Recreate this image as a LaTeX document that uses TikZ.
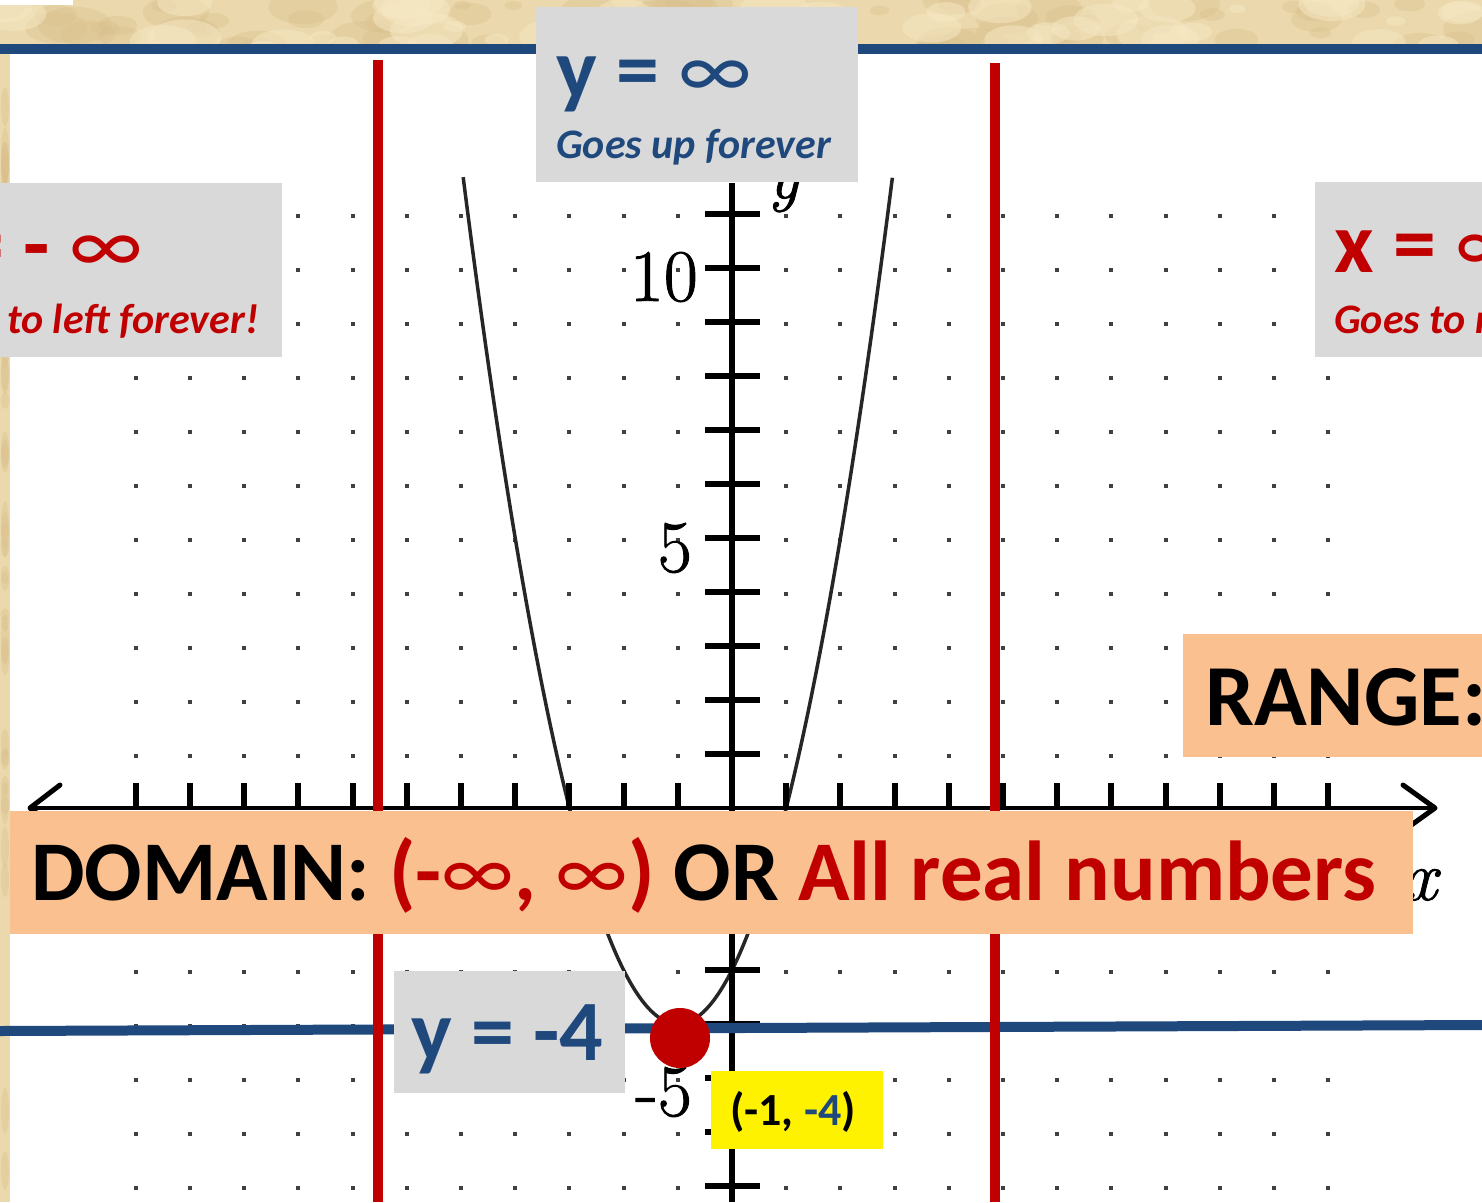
\documentclass[tikz,border=0pt]{standalone}
\usepackage{fontspec}
\setmainfont{Carlito}
\newfontfamily\lmr[FakeBold=1.2]{Latin Modern Roman}
\definecolor{navy}{HTML}{1F497D}
\definecolor{dred}{HTML}{C00000}
\definecolor{boxgray}{HTML}{D9D9D9}
\definecolor{peach}{HTML}{FAC090}
\definecolor{parch}{HTML}{EBD8AC}
\definecolor{parchdark}{HTML}{D9C08C}
\definecolor{parchlight}{HTML}{F6E8C4}
\definecolor{dotc}{HTML}{404040}
\newcommand\inft{{\mdseries ∞}}
\begin{document}
\begin{tikzpicture}[x=1pt,y=-1pt,
  bigtxt/.style={font=\fontsize{86}{86}\selectfont\bfseries, inner sep=0pt},
  smalltxt/.style={font=\fontsize{42}{42}\selectfont\bfseries\itshape, inner sep=0pt},
  domtxt/.style={font=\fontsize{85}{85}\selectfont\bfseries, inner sep=0pt, text=black},
  pttxt/.style={font=\fontsize{46}{46}\selectfont\bfseries, inner sep=0pt, text=black},
  numtxt/.style={font=\fontsize{74}{74}\selectfont\lmr, inner sep=0pt, text=black},
  axisline/.style={line width=4pt, black},
  tickline/.style={line width=6pt, black},
  redline/.style={line width=10pt, dred},
  blueline/.style={line width=10pt, navy}]
\useasboundingbox (0,0) rectangle (1482,1202);
\path[clip] (0,0) rectangle (1482,1202);
% background parchment
\fill[parch] (0,0) rectangle (1482,1202);
\pgfmathsetseed{7}
\foreach \k in {1,...,70}{
  \pgfmathsetmacro{\px}{rnd*1482}
  \pgfmathsetmacro{\py}{rnd*50}
  \pgfmathsetmacro{\pr}{8+rnd*30}
  \fill[parchdark, opacity=0.35] (\px,\py) ellipse[x radius=\pr, y radius=\pr/2];
}
\foreach \k in {1,...,50}{
  \pgfmathsetmacro{\px}{rnd*1482}
  \pgfmathsetmacro{\py}{rnd*50}
  \pgfmathsetmacro{\pr}{8+rnd*30}
  \fill[parchlight, opacity=0.5] (\px,\py) ellipse[x radius=\pr, y radius=\pr/2];
}
\foreach \k in {1,...,40}{
  \pgfmathsetmacro{\py}{54+rnd*1148}
  \pgfmathsetmacro{\pr}{6+rnd*20}
  \fill[parchdark, opacity=0.35] (5,\py) ellipse[x radius=4, y radius=\pr];
}
\fill[white] (0,0) rectangle (73,5);
\fill[white] (10,54) rectangle (1482,1202);
% dot grid
\foreach \i in {-11,...,-1,1,2,...,11}{
  \foreach \j in {-7,...,-1,1,2,...,11}{
    \fill[dotc] ({732+54.2*\i-2},{808-54*\j}) rectangle +(4,4);
  }
}
% parabola
\draw[line width=3.5pt, black!85] plot[domain=-4.96:2.96, samples=90, smooth] ({732+54.2*\x},{808-54*((\x+1)^2-4)});
% axes
\draw[axisline] (30,808) -- (1435,808);
\draw[line width=5pt, line cap=round, line join=round] (60,785) -- (30,808) -- (60,831);
\draw[line width=5pt, line cap=round, line join=round] (1403,785) -- (1435,808) -- (1403,831);
\draw[line width=6pt] (732,183) -- (732,1202);
\foreach \i in {-11,...,-1,1,2,...,11}{
  \draw[tickline] ({732+54.2*\i},783) -- ({732+54.2*\i},808);
}
\foreach \j in {-7,...,-1,1,2,...,11}{
  \draw[tickline] (705,{808-54*\j}) -- (760,{808-54*\j});
}
% axis labels
\node[numtxt, anchor=east] (n10) at (698,277) {10};
\node[numtxt, anchor=east] (n5) at (692,548) {5};
\node[numtxt, anchor=east] (nm5) at (692,1092) {-5};
\node[numtxt, anchor=base, font=\fontsize{70}{70}\selectfont\lmr\itshape] (ylab) at (783,198) {y};
\node[numtxt, anchor=base, font=\fontsize{70}{70}\selectfont\lmr\itshape] (xlab) at (1421,900) {x};
% top blue line
\draw[blueline] (0,49) -- (1482,49);
% y = -4 line
\draw[blueline] (0,1031) -- (1482,1025);
% red vertical lines
\draw[redline] (378,60) -- (378,1202);
\draw[redline] (995,63) -- (995,1202);
% red vertex dot
\fill[dred] (680,1038) circle[radius=30];
% boxes
\fill[boxgray] (536,7) rectangle (858,182);
\fill[boxgray] (0,183) rectangle (282,357);
\fill[boxgray] (1315,182) rectangle (1482,357);
\fill[peach] (1183,634) rectangle (1482,757);
\fill[peach] (10,811) rectangle (1413,934);
\fill[boxgray] (394,971) rectangle (625,1093);
\fill[yellow] (711,1071) rectangle (883,1149);
% texts
\node[bigtxt, text=navy, anchor=base west] (yinf) at (556,98) {y = \inft};
\node[smalltxt, text=navy, anchor=base west] (upf) at (556,158) {Goes up forever};
\node[bigtxt, text=dred, anchor=base east] (xneg) at (143,273) {x = - \inft};
\node[smalltxt, text=dred, anchor=base east] (leftf) at (259,333) {Goes to left forever!};
\node[bigtxt, text=dred, anchor=base west] (xpos) at (1334,272) {x = \inft};
\node[smalltxt, text=dred, anchor=base west] (rightf) at (1334,333) {Goes to right forever!};
\node[domtxt, font=\fontsize{87}{87}\selectfont\bfseries, anchor=base west] (rng) at (1205,725) {RANGE:};
\node[domtxt, anchor=base west] (dom) at (31,900) {DOMAIN: \textcolor{dred}{(-\inft, \inft)} OR \textcolor{dred}{All real numbers}};
\node[bigtxt, text=navy, anchor=base west] (ym4) at (411,1060) {y = -4};
\node[pttxt, anchor=base west] (pt) at (730,1125) {(-1, \textcolor{navy}{-4})};
\end{tikzpicture}
\end{document}
